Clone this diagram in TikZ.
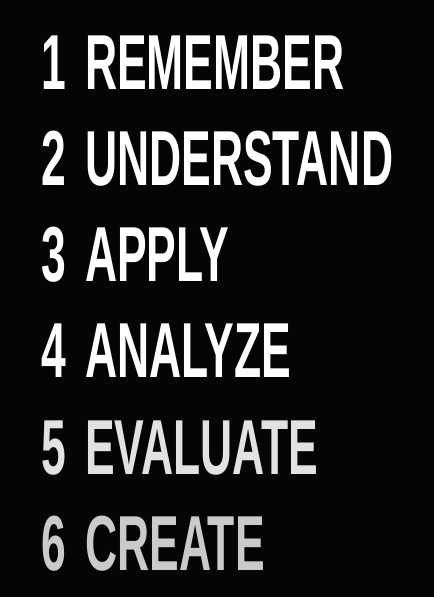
\documentclass[tikz,border=0pt]{standalone}
\usepackage{xcolor}
\usepackage{fontspec}
\setmainfont{Liberation Sans}
\usepackage{tikz}

\definecolor{bg}{HTML}{050505}
\definecolor{lvlfive}{HTML}{E2E2E2}
\definecolor{lvlsix}{HTML}{CACACA}

% number, then a wide gap before the word
\newcommand{\lvlnum}[1]{#1\hspace{34pt}}

\begin{document}
\begin{tikzpicture}[x=1pt, y=1pt,
    lvl/.style={anchor=base west, inner sep=0pt, xscale=0.57, text=white,
        font=\bfseries\fontsize{78}{80}\selectfont}]
        % Background
        \fill[bg] (0,0) rectangle (434,597);
        \useasboundingbox (0,0) rectangle (434,597);
        
        % Levels
        \node[lvl] (remember) at (41,507) {\lvlnum{1}REMEMBER};
        \node[lvl] (understand) at (41,411) {\lvlnum{2}UNDERSTAND};
        \node[lvl] (apply) at (41,315) {\lvlnum{3}APPLY};
        \node[lvl] (analyze) at (41,219) {\lvlnum{4}ANALYZE};
        
        % Faded levels
        \node[lvl, text=lvlfive] (evaluate) at (41,122) {\lvlnum{5}EVALUATE};
        \node[lvl, text=lvlsix] (create) at (41,27) {\lvlnum{6}CREATE};
    \end{tikzpicture}
\end{document}
